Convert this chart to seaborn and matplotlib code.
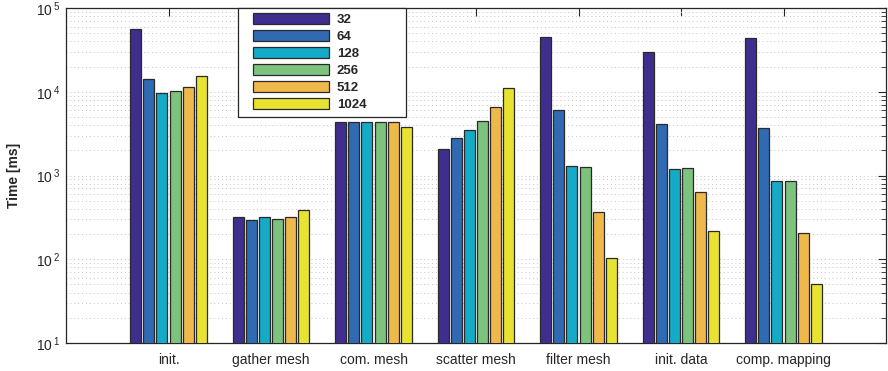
import matplotlib
matplotlib.use("Agg")
import matplotlib.pyplot as plt
import matplotlib.patches as mpatches
from matplotlib.legend_handler import HandlerPatch
from matplotlib.ticker import LogLocator, NullFormatter
import numpy as np
import pandas as pd
import seaborn as sns

# Data (time in ms, log scale)
steps = ["init.", "gather mesh", "com. mesh", "scatter mesh",
         "filter mesh", "init. data", "comp. mapping"]
sizes = ["32", "64", "128", "256", "512", "1024"]
t_32 = [55700, 316, 4300, 2070, 44700, 30100, 43400]
t_64 = [14300, 292, 4300, 2800, 6050, 4160, 3720]
t_128 = [9600, 316, 4320, 3460, 1300, 1180, 850]
t_256 = [10300, 305, 4320, 4440, 1270, 1230, 867]
t_512 = [11500, 322, 4300, 6520, 370, 640, 206]
t_1024 = [15300, 384, 3830, 11100, 103, 217, 50]
colors = ["#3F2E8E", "#306AB3", "#15AAC5", "#7DC27D", "#EFB84A", "#E8E231"]

rows = []
for size, vals in zip(sizes, [t_32, t_64, t_128, t_256, t_512, t_1024]):
    for step, v in zip(steps, vals):
        rows.append({"step": step, "size": size, "time": v})
df = pd.DataFrame(rows)

sns.set_style('white')
plt.rcParams['font.family'] = ['Liberation Sans', 'DejaVu Sans']
plt.rcParams['mathtext.default'] = 'regular'

fig = plt.figure(figsize=(8.88, 3.71), dpi=100)
ax = fig.add_axes([66/888, 1 - 343/371, 820/888, 335/371])

sns.barplot(data=df, x="step", y="time", hue="size", order=steps,
            hue_order=sizes, palette=colors, saturation=1, width=0.77, gap=0.17,
            edgecolor="#2a2a2a", linewidth=0.9, ax=ax, zorder=3)

ax.set_yscale('log')
ax.set_ylim(10, 1e5)
ax.set_xlim(-1, 7)

ax.grid(True, which='both', axis='y', ls=(0, (1, 3)), color='#c4c4c4', lw=0.7, zorder=0)
ax.set_axisbelow(True)
ax.yaxis.set_major_locator(LogLocator(base=10, numticks=10))
ax.yaxis.set_minor_locator(LogLocator(base=10, subs=np.arange(2, 10), numticks=20))
ax.yaxis.set_minor_formatter(NullFormatter())
ax.set_yticks([10, 100, 1000, 1e4, 1e5])
ax.set_yticklabels([r'$10^{\,1}$', r'$10^{\,2}$', r'$10^{\,3}$', r'$10^{\,4}$', r'$10^{\,5}$'])

ax.tick_params(axis='both', which='both', direction='in', top=True, right=True,
               labelsize=10, colors='#262626', labelcolor='#262626')
ax.tick_params(axis='both', which='major', length=6, width=0.8)
ax.tick_params(axis='y', which='minor', length=3.5, width=0.6)
ax.tick_params(axis='x', pad=7)
ax.tick_params(axis='y', pad=4)
for sp in ax.spines.values():
    sp.set_visible(True)
    sp.set_color('#262626')
    sp.set_linewidth(0.9)

ax.set_xlabel('')
ax.set_ylabel('Time [ms]', fontsize=10, fontweight='bold', labelpad=11)


def make_rect(legend, orig_handle, xdescent, ydescent, width, height, fontsize):
    off = 0.113 * width
    return mpatches.Rectangle((-xdescent + off, -ydescent), width - off, height)


handles, labels = ax.get_legend_handles_labels()
ax.legend(handles, labels, loc='upper left',
          bbox_to_anchor=(172/820, 0.0, 168/820, 1.0), mode='expand',
          prop={'weight': 'bold', 'size': 9.5}, frameon=True, fancybox=False,
          edgecolor='#262626', framealpha=1, borderpad=0.4, borderaxespad=0,
          handlelength=6.5, handleheight=0.9, handletextpad=0.6, labelspacing=0.3,
          handler_map={mpatches.Rectangle: HandlerPatch(patch_func=make_rect)})
ax.get_legend().get_frame().set_linewidth(0.9)
ax.get_legend().set_zorder(5)

fig.savefig("out.png", dpi=100)
